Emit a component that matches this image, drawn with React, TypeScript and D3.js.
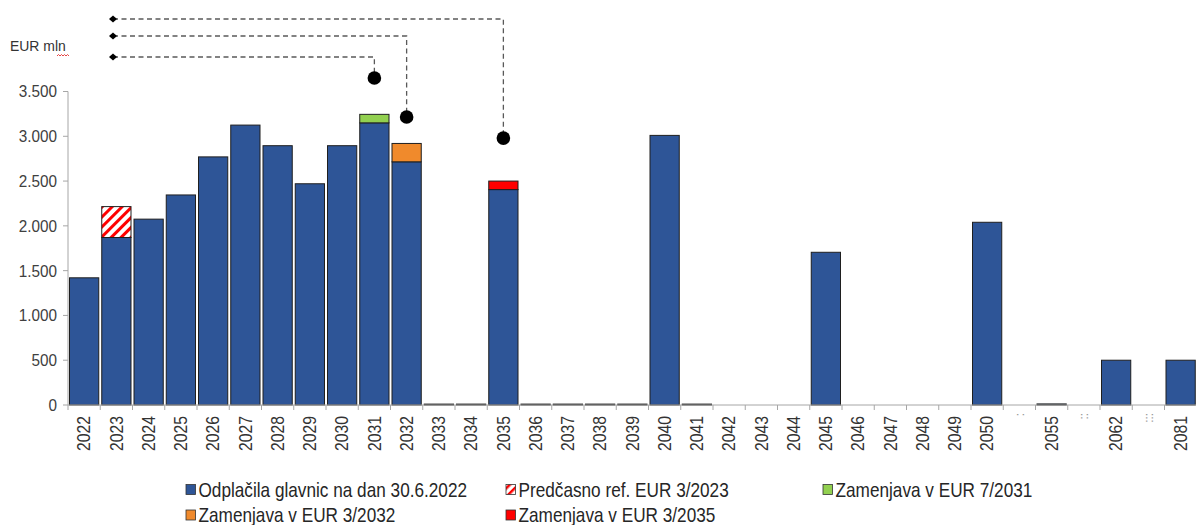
import React from "react";
import * as d3 from "d3";

const categories = [
  "2022","2023","2024","2025","2026","2027","2028","2029","2030","2031",
  "2032","2033","2034","2035","2036","2037","2038","2039","2040","2041",
  "2042","2043","2044","2045","2046","2047","2048","2049","2050",
  ":","2055","::","2062",":::","2081",
];
const separators = [":", "::", ":::"];

// Odplačila glavnic na dan 30.6.2022
const principal = [
  1420,1870,2075,2345,2770,3125,2895,2470,2895,3150,
  2715,10,10,2405,10,10,10,10,3010,10,
  0,0,0,1705,0,0,0,0,2040,
  0,12,0,500,0,500,
];
// Predčasno ref. EUR 3/2023
const earlyRefCats = ["2023"];
const earlyRefValues = [345];
// Zamenjava v EUR 7/2031
const swap2031Cats = ["2031"];
const swap2031Values = [95];
// Zamenjava v EUR 3/2032
const swap2032Cats = ["2032"];
const swap2032Values = [205];
// Zamenjava v EUR 3/2035
const swap2035Cats = ["2035"];
const swap2035Values = [95];

// connector markers (dots above bars)
const markerCats = ["2031", "2032", "2035"];
const markerValues = [3650, 3215, 2980];

const yTicks = [0, 500, 1000, 1500, 2000, 2500, 3000, 3500];

const BLUE = "#2E5597";
const GREEN = "#92D050";
const ORANGE = "#F08A2C";
const RED = "#FF0000";
const FONT = "'Liberation Sans', Arial, sans-serif";

export default function App() {
  const W = 1196, H = 525;
  const x0 = 68;
  const step = 32.25;
  const x = d3.scaleBand<string>().domain(categories).range([x0, x0 + step * categories.length]).padding(0);
  const y = d3.scaleLinear().domain([0, 3500]).range([405, 91.5]);
  const bw = x.bandwidth();
  const fmt = (v: number) => d3.format(",")(v).replace(/,/g, ".");

  const stacks: { cat: string; base: number; v: number; fill: string }[] = [];
  const extras: [string[], number[], string][] = [
    [earlyRefCats, earlyRefValues, "url(#hatch)"],
    [swap2031Cats, swap2031Values, GREEN],
    [swap2032Cats, swap2032Values, ORANGE],
    [swap2035Cats, swap2035Values, RED],
  ];
  categories.forEach((c, i) => {
    if (principal[i] > 0) stacks.push({ cat: c, base: 0, v: principal[i], fill: BLUE });
  });
  extras.forEach(([cats, vals, fill]) => {
    cats.forEach((c, j) => {
      const i = categories.indexOf(c);
      stacks.push({ cat: c, base: principal[i], v: vals[j], fill });
    });
  });

  const connectorLevels = [57, 36, 19];
  const diamondX = 113;

  const legend = [
    { label: "Odplačila glavnic na dan 30.6.2022", fill: BLUE, x: 186, y: 489.5 },
    { label: "Predčasno ref. EUR 3/2023", fill: "url(#hatchS)", x: 506, y: 489.5 },
    { label: "Zamenjava v EUR 7/2031", fill: GREEN, x: 823, y: 489.5 },
    { label: "Zamenjava v EUR 3/2032", fill: ORANGE, x: 186, y: 515 },
    { label: "Zamenjava v EUR 3/2035", fill: RED, x: 506, y: 515 },
  ];

  return (
    <svg width={W} height={H} style={{ position: "absolute", left: 0, top: 0, background: "#fff" }} fontFamily={FONT}>
      <defs>
        <pattern id="hatch" patternUnits="userSpaceOnUse" width="7" height="7" patternTransform="rotate(45)">
          <rect width="7" height="7" fill="#fff" />
          <rect x="0" y="0" width="3" height="7" fill={RED} />
        </pattern>
        <pattern id="hatchS" patternUnits="userSpaceOnUse" width="6" height="6" patternTransform="rotate(45)">
          <rect width="6" height="6" fill="#fff" />
          <rect x="0" y="0" width="2.5" height="6" fill={RED} />
        </pattern>
      </defs>

      {/* y axis */}
      <line x1={x0} x2={x0} y1={y(3500)} y2={y(0)} stroke="#A6A6A6" />
      {yTicks.map((t) => (
        <g key={t}>
          <line x1={x0 - 5} x2={x0} y1={y(t)} y2={y(t)} stroke="#A6A6A6" />
          <text transform={`translate(57,${y(t)}) scale(0.9,1)`} dy="0.35em" textAnchor="end" fontSize={17} fill="#404040">{fmt(t)}</text>
        </g>
      ))}
      <text transform="translate(10,51) scale(0.9,1)" fontSize={15.5} fill="#333">EUR mln</text>
      <path d="M57,56 l1.5,-1.5 l1.5,1.5 l1.5,-1.5 l1.5,1.5 l1.5,-1.5 l1.5,1.5 l1.5,-1.5 l1.5,1.5" fill="none" stroke="#E03030" strokeWidth={0.9} />

      {/* bars */}
      {stacks.map((s, i) => {
        const top = y(s.base + s.v);
        const bot = y(s.base);
        return (
          <rect key={i} x={(x(s.cat) as number) + 1.5} width={bw - 3} y={top} height={Math.max(bot - top, 0.5)}
            fill={s.fill} stroke="#1F1F1F" strokeWidth={1} />
        );
      })}

      {/* x axis */}
      <line x1={x0} x2={x0 + step * categories.length} y1={y(0)} y2={y(0)} stroke="#A6A6A6" />
      {categories.map((c) => (
        <line key={"t" + c} x1={x(c) as number} x2={x(c) as number} y1={y(0)} y2={y(0) + 5} stroke="#A6A6A6" />
      ))}
      {categories.map((c) => {
        const cx = (x(c) as number) + bw / 2;
        const sep = separators.includes(c);
        return (
          <text key={"l" + c} transform={`translate(${cx},${sep ? 413 : 416}) rotate(-90) scale(0.9,1)`} textAnchor="end" dy="0.35em"
            fontSize={sep ? 13 : 17.5} fill={sep ? "#9A9A9A" : "#333"}>{c}</text>
        );
      })}

      {/* connectors */}
      {markerCats.map((c, i) => {
        const cx = (x(c) as number) + bw / 2;
        const ly = connectorLevels[i];
        const my = y(markerValues[i]);
        return (
          <g key={"m" + c}>
            <path d={`M${diamondX},${ly} H${cx} V${my}`} fill="none" stroke="#595959" strokeWidth={1.3} strokeDasharray="5,3.5" />
            <path d={`M${diamondX - 4},${ly} L${diamondX},${ly - 3.5} L${diamondX + 4},${ly} L${diamondX},${ly + 3.5} Z`} fill="#000" />
            <circle cx={cx} cy={my} r={6.8} fill="#000" />
          </g>
        );
      })}

      {/* legend */}
      {legend.map((l) => (
        <g key={l.label}>
          <rect x={l.x} y={l.y - 5} width={9.5} height={10} fill={l.fill} stroke="#333" strokeWidth={0.8} />
          <text transform={`translate(${l.x + 12.5},${l.y}) scale(0.86,1)`} dy="0.36em" fontSize={20} fill="#262626">{l.label}</text>
        </g>
      ))}
    </svg>
  );
}
